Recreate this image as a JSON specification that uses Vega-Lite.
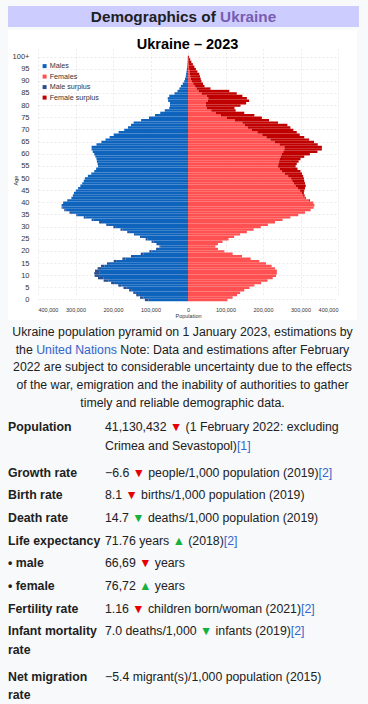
{
  "$schema": "https://vega.github.io/schema/vega-lite/v6.json",
  "background": "#f8f9fa",
  "padding": {"left": 8, "top": 6, "right": 9, "bottom": 0},
  "spacing": 3,
  "bounds": "flush",
  "resolve": {"scale": {"x": "independent", "y": "independent", "color": "independent"}, "legend": {"color": "independent"}},
  "config": {
    "font": "Liberation Sans",
    "view": {"stroke": null},
    "axis": {"labelFont": "Liberation Sans", "titleFont": "Liberation Sans"},
    "legend": {"labelFont": "Liberation Sans"}
  },
  "vconcat": [
    {
      "width": 351,
      "height": 21,
      "view": {"fill": "#ccccff", "stroke": null},
      "data": {"values": [{"a": "Demographics of", "b": "Ukraine"}]},
      "layer": [
        {
          "mark": {"type": "text", "x": 207.8, "y": 10.5, "align": "right", "baseline": "middle", "fontSize": 15.3, "fontWeight": "bold", "color": "#202122"},
          "encoding": {"text": {"field": "a"}}
        },
        {
          "mark": {"type": "text", "x": 212.1, "y": 10.5, "align": "left", "baseline": "middle", "fontSize": 15.3, "fontWeight": "bold", "color": "#795cb2"},
          "encoding": {"text": {"field": "b"}}
        }
      ]
    },
    {
      "width": 349,
      "height": 290,
      "view": {"fill": "white", "stroke": null},
      "title": {"text": "Ukraine – 2023", "fontSize": 14.5, "fontWeight": "bold", "color": "#000000", "anchor": "middle", "frame": "group", "offset": -33.5, "baseline": "alphabetic", "dx": 5},
      "data": {"values": [
        {"age":0,"Males":-105,"Male surplus":-10,"Females":105,"Female surplus":0},
        {"age":1,"Males":-119,"Male surplus":-9,"Females":119,"Female surplus":0},
        {"age":2,"Males":-131,"Male surplus":-7,"Females":131,"Female surplus":0},
        {"age":3,"Males":-139,"Male surplus":-7,"Females":139,"Female surplus":0},
        {"age":4,"Males":-150,"Male surplus":-7,"Females":150,"Female surplus":0},
        {"age":5,"Males":-164,"Male surplus":-8,"Females":164,"Female surplus":0},
        {"age":6,"Males":-177,"Male surplus":-9,"Females":177,"Female surplus":0},
        {"age":7,"Males":-195,"Male surplus":-10,"Females":195,"Female surplus":0},
        {"age":8,"Males":-212,"Male surplus":-13,"Females":212,"Female surplus":0},
        {"age":9,"Males":-226,"Male surplus":-14,"Females":226,"Female surplus":0},
        {"age":10,"Males":-235,"Male surplus":-14,"Females":235,"Female surplus":0},
        {"age":11,"Males":-237,"Male surplus":-13,"Females":237,"Female surplus":0},
        {"age":12,"Males":-237,"Male surplus":-11,"Females":237,"Female surplus":0},
        {"age":13,"Males":-232,"Male surplus":-9,"Females":232,"Female surplus":0},
        {"age":14,"Males":-223,"Male surplus":-9,"Females":223,"Female surplus":0},
        {"age":15,"Males":-208,"Male surplus":-8,"Females":208,"Female surplus":0},
        {"age":16,"Males":-190,"Male surplus":-8,"Females":190,"Female surplus":0},
        {"age":17,"Males":-167,"Male surplus":-8,"Females":167,"Female surplus":0},
        {"age":18,"Males":-144,"Male surplus":-8,"Females":144,"Female surplus":0},
        {"age":19,"Males":-119,"Male surplus":-7,"Females":119,"Female surplus":0},
        {"age":20,"Males":-97,"Male surplus":-6,"Females":97,"Female surplus":0},
        {"age":21,"Males":-80,"Male surplus":-5,"Females":80,"Female surplus":0},
        {"age":22,"Males":-73,"Male surplus":-3,"Females":73,"Female surplus":0},
        {"age":23,"Males":-80,"Male surplus":-4,"Females":80,"Female surplus":0},
        {"age":24,"Males":-92,"Male surplus":-5,"Females":92,"Female surplus":0},
        {"age":25,"Males":-108,"Male surplus":-5,"Females":108,"Female surplus":0},
        {"age":26,"Males":-123,"Male surplus":-5,"Females":123,"Female surplus":0},
        {"age":27,"Males":-139,"Male surplus":-5,"Females":139,"Female surplus":0},
        {"age":28,"Males":-157,"Male surplus":-5,"Females":157,"Female surplus":0},
        {"age":29,"Males":-175,"Male surplus":-5,"Females":175,"Female surplus":0},
        {"age":30,"Males":-194,"Male surplus":-5,"Females":194,"Female surplus":0},
        {"age":31,"Males":-213,"Male surplus":-5,"Females":213,"Female surplus":0},
        {"age":32,"Males":-232,"Male surplus":-5,"Females":232,"Female surplus":0},
        {"age":33,"Males":-252,"Male surplus":-5,"Females":252,"Female surplus":0},
        {"age":34,"Males":-273,"Male surplus":-5,"Females":273,"Female surplus":0},
        {"age":35,"Males":-294,"Male surplus":-4,"Females":294,"Female surplus":0},
        {"age":36,"Males":-312,"Male surplus":-4,"Females":312,"Female surplus":0},
        {"age":37,"Males":-327,"Male surplus":-3,"Females":327,"Female surplus":0},
        {"age":38,"Males":-335,"Male surplus":-2,"Females":335,"Female surplus":0},
        {"age":39,"Males":-337,"Male surplus":0,"Females":337,"Female surplus":0},
        {"age":40,"Males":-333,"Male surplus":0,"Females":333,"Female surplus":1},
        {"age":41,"Males":-322,"Male surplus":0,"Females":322,"Female surplus":3},
        {"age":42,"Males":-311,"Male surplus":0,"Females":311,"Female surplus":3},
        {"age":43,"Males":-307,"Male surplus":0,"Females":307,"Female surplus":4},
        {"age":44,"Males":-304,"Male surplus":0,"Females":304,"Female surplus":5},
        {"age":45,"Males":-299,"Male surplus":0,"Females":299,"Female surplus":11},
        {"age":46,"Males":-293,"Male surplus":0,"Females":293,"Female surplus":19},
        {"age":47,"Males":-287,"Male surplus":0,"Females":287,"Female surplus":27},
        {"age":48,"Males":-282,"Male surplus":0,"Females":282,"Female surplus":30},
        {"age":49,"Males":-278,"Male surplus":0,"Females":278,"Female surplus":32},
        {"age":50,"Males":-275,"Male surplus":0,"Females":275,"Female surplus":34},
        {"age":51,"Males":-267,"Male surplus":0,"Females":267,"Female surplus":40},
        {"age":52,"Males":-258,"Male surplus":0,"Females":258,"Female surplus":46},
        {"age":53,"Males":-250,"Male surplus":0,"Females":250,"Female surplus":50},
        {"age":54,"Males":-245,"Male surplus":0,"Females":245,"Female surplus":47},
        {"age":55,"Males":-240,"Male surplus":0,"Females":240,"Female surplus":47},
        {"age":56,"Males":-241,"Male surplus":0,"Females":241,"Female surplus":49},
        {"age":57,"Males":-243,"Male surplus":0,"Females":243,"Female surplus":52},
        {"age":58,"Males":-244,"Male surplus":0,"Females":244,"Female surplus":56},
        {"age":59,"Males":-247,"Male surplus":0,"Females":247,"Female surplus":63},
        {"age":60,"Males":-250,"Male surplus":0,"Females":250,"Female surplus":75},
        {"age":61,"Males":-254,"Male surplus":0,"Females":254,"Female surplus":91},
        {"age":62,"Males":-257,"Male surplus":0,"Females":257,"Female surplus":100},
        {"age":63,"Males":-257,"Male surplus":0,"Females":257,"Female surplus":100},
        {"age":64,"Males":-244,"Male surplus":0,"Females":244,"Female surplus":102},
        {"age":65,"Males":-231,"Male surplus":0,"Females":231,"Female surplus":105},
        {"age":66,"Males":-220,"Male surplus":0,"Females":220,"Female surplus":103},
        {"age":67,"Males":-209,"Male surplus":0,"Females":209,"Female surplus":101},
        {"age":68,"Males":-198,"Male surplus":0,"Females":198,"Female surplus":100},
        {"age":69,"Males":-185,"Male surplus":0,"Females":185,"Female surplus":105},
        {"age":70,"Males":-170,"Male surplus":0,"Females":170,"Female surplus":111},
        {"age":71,"Males":-160,"Male surplus":0,"Females":160,"Female surplus":113},
        {"age":72,"Males":-152,"Male surplus":0,"Females":152,"Female surplus":113},
        {"age":73,"Males":-145,"Male surplus":0,"Females":145,"Female surplus":95},
        {"age":74,"Males":-125,"Male surplus":0,"Females":125,"Female surplus":91},
        {"age":75,"Males":-104,"Male surplus":0,"Females":104,"Female surplus":93},
        {"age":76,"Males":-88,"Male surplus":0,"Females":88,"Female surplus":89},
        {"age":77,"Males":-74,"Male surplus":0,"Females":74,"Female surplus":76},
        {"age":78,"Males":-62,"Male surplus":0,"Females":62,"Female surplus":65},
        {"age":79,"Males":-50,"Male surplus":0,"Females":50,"Female surplus":74},
        {"age":80,"Males":-48,"Male surplus":0,"Females":48,"Female surplus":92},
        {"age":81,"Males":-48,"Male surplus":0,"Females":48,"Female surplus":107},
        {"age":82,"Males":-53,"Male surplus":0,"Females":53,"Female surplus":110},
        {"age":83,"Males":-54,"Male surplus":0,"Females":54,"Female surplus":103},
        {"age":84,"Males":-50,"Male surplus":0,"Females":50,"Female surplus":95},
        {"age":85,"Males":-36,"Male surplus":0,"Females":36,"Female surplus":94},
        {"age":86,"Males":-28,"Male surplus":0,"Females":28,"Female surplus":82},
        {"age":87,"Males":-23,"Male surplus":0,"Females":23,"Female surplus":37},
        {"age":88,"Males":-19,"Male surplus":0,"Females":19,"Female surplus":25},
        {"age":89,"Males":-14,"Male surplus":0,"Females":14,"Female surplus":26},
        {"age":90,"Males":-10,"Male surplus":0,"Females":10,"Female surplus":26},
        {"age":91,"Males":-8,"Male surplus":0,"Females":8,"Female surplus":26},
        {"age":92,"Males":-6,"Male surplus":0,"Females":6,"Female surplus":26},
        {"age":93,"Males":-5,"Male surplus":0,"Females":5,"Female surplus":25},
        {"age":94,"Males":-4,"Male surplus":0,"Females":4,"Female surplus":21},
        {"age":95,"Males":-3,"Male surplus":0,"Females":3,"Female surplus":18},
        {"age":96,"Males":-2,"Male surplus":0,"Females":2,"Female surplus":15},
        {"age":97,"Males":-1.5,"Male surplus":0,"Females":1.5,"Female surplus":11.5},
        {"age":98,"Males":-1,"Male surplus":0,"Females":1,"Female surplus":8},
        {"age":99,"Males":-0.7,"Male surplus":0,"Females":0.7,"Female surplus":5.3},
        {"age":100,"Males":-0.5,"Male surplus":0,"Females":0.5,"Female surplus":2.5}
      ]},
      "transform": [
        {"fold": ["Males", "Male surplus", "Females", "Female surplus"], "as": ["part", "v"]},
        {"filter": "datum.v != 0"}
      ],
      "mark": {"type": "bar", "strokeWidth": 0},
      "encoding": {
        "y": {
          "field": "age", "type": "ordinal", "sort": "descending",
          "scale": {"range": [25.8, 271.2], "paddingInner": 0, "paddingOuter": 0},
          "axis": {
            "values": [0,5,10,15,20,25,30,35,40,45,50,55,60,65,70,75,80,85,90,95,100],
            "labelExpr": "datum.value == 100 ? '100+' : datum.label",
            "offset": -23, "ticks": false, "tickSize": 0, "domain": false, "labelPadding": 2,
            "labelFontSize": 7.5, "labelColor": "#333333",
            "grid": true, "gridDash": [2, 2], "gridColor": "#dddddd", "gridWidth": 0.6,
            "title": "Age", "titleFontSize": 5.5, "titleFontWeight": "normal", "titleColor": "#333333",
            "titleX": -16, "titleY": 150, "titleAngle": 270, "titleAlign": "center", "titleBaseline": "middle"
          }
        },
        "x": {
          "field": "v", "type": "quantitative", "stack": "zero",
          "scale": {"domain": [-400, 400], "range": [30, 330], "nice": false, "zero": false},
          "axis": {
            "values": [-400,-300,-200,-100,0,100,200,300,400],
            "labelExpr": "format(abs(datum.value) * 1000, ',')",
            "offset": -15, "ticks": false, "tickSize": 0, "domain": false, "labelPadding": 2,
            "labelFontSize": 5.5, "labelColor": "#333333",
            "grid": true, "gridDash": [2, 2], "gridColor": "#dddddd", "gridWidth": 0.6,
            "title": "Population", "titleFontSize": 5.5, "titleFontWeight": "normal", "titleColor": "#333333", "titlePadding": 1
          }
        },
        "color": {
          "field": "part", "type": "nominal",
          "scale": {"domain": ["Males", "Females", "Male surplus", "Female surplus"], "range": ["#0e63bd", "#ff5151", "#2a4d8f", "#c00000"]},
          "legend": {
            "title": null, "orient": "none", "legendX": 33, "legendY": 32.5, "padding": 0,
            "symbolType": "square", "symbolSize": 16, "symbolStrokeWidth": 0,
            "labelFontSize": 7.2, "labelColor": "#333333", "rowPadding": 2.5, "labelOffset": 1.5
          }
        },
        "order": {"field": "part", "sort": "descending"}
      }
    },
    {
      "width": 349,
      "height": 88.75,
      "data": {"values": [
        {"line": 0, "text": "Ukraine population pyramid on 1 January 2023, estimations by"},
        {"line": 1, "text": "the United Nations Note: Data and estimations after February", "link": "the United Nations", "plain": "the"},
        {"line": 2, "text": "2022 are subject to considerable uncertainty due to the effects"},
        {"line": 3, "text": "of the war, emigration and the inability of authorities to gather"},
        {"line": 4, "text": "timely and reliable demographic data."}
      ]},
      "encoding": {
        "y": {"field": "line", "type": "ordinal", "scale": {"type": "point", "padding": 0.5, "domain": [0, 1, 2, 3, 4]}, "axis": null}
      },
      "layer": [
        {
          "transform": [{"filter": "datum.line != 1"}],
          "mark": {"type": "text", "x": 174.5, "align": "center", "baseline": "middle", "fontSize": 12.3, "color": "#202122"},
          "encoding": {"text": {"field": "text"}}
        },
        {
          "transform": [{"filter": "datum.line == 1"}],
          "mark": {"type": "text", "x": 7.7, "align": "left", "baseline": "middle", "fontSize": 12.3, "color": "#202122"},
          "encoding": {"text": {"field": "text"}}
        },
        {
          "transform": [{"filter": "datum.line == 1"}],
          "mark": {"type": "text", "x": 7.7, "align": "left", "baseline": "middle", "fontSize": 12.3, "fill": "#f8f9fa", "fillOpacity": 0, "stroke": "#f8f9fa", "strokeWidth": 1.4, "strokeJoin": "round"},
          "encoding": {"text": {"field": "link"}}
        },
        {
          "transform": [{"filter": "datum.line == 1"}],
          "mark": {"type": "text", "x": 7.7, "align": "left", "baseline": "middle", "fontSize": 12.3, "color": "#3366cc"},
          "encoding": {"text": {"field": "link"}}
        },
        {
          "transform": [{"filter": "datum.line == 1"}],
          "mark": {"type": "text", "x": 7.7, "align": "left", "baseline": "middle", "fontSize": 12.3, "fill": "#f8f9fa", "fillOpacity": 0, "stroke": "#f8f9fa", "strokeWidth": 1.4, "strokeJoin": "round"},
          "encoding": {"text": {"field": "plain"}}
        },
        {
          "transform": [{"filter": "datum.line == 1"}],
          "mark": {"type": "text", "x": 7.7, "align": "left", "baseline": "middle", "fontSize": 12.3, "color": "#202122"},
          "encoding": {"text": {"field": "plain"}}
        }
      ]
    },
    {
      "width": 349,
      "height": 290,
      "data": {"values": [
        {"line": 0, "label": "Population", "text": "41,130,432 ▼ (1 February 2022: excluding\nCrimea and Sevastopol)", "full": "41,130,432 ▼ (1 February 2022: excluding\nCrimea and Sevastopol)[1]", "pre": "41,130,432", "tri": "41,130,432 ▼", "trend": "worse"},
        {"line": 2, "label": "Growth rate", "text": "−6.6 ▼ people/1,000 population (2019)", "full": "−6.6 ▼ people/1,000 population (2019)[2]", "pre": "−6.6", "tri": "−6.6 ▼", "trend": "worse"},
        {"line": 3, "label": "Birth rate", "text": "8.1 ▼ births/1,000 population (2019)", "pre": "8.1", "tri": "8.1 ▼", "trend": "worse"},
        {"line": 4, "label": "Death rate", "text": "14.7 ▼ deaths/1,000 population (2019)", "pre": "14.7", "tri": "14.7 ▼", "trend": "better"},
        {"line": 5, "label": "Life expectancy", "text": "71.76 years ▲ (2018)", "full": "71.76 years ▲ (2018)[2]", "pre": "71.76 years", "tri": "71.76 years ▲", "trend": "better"},
        {"line": 6, "label": "\u00a0• male", "text": "66,69 ▼ years", "pre": "66,69", "tri": "66,69 ▼", "trend": "worse"},
        {"line": 7, "label": "\u00a0• female", "text": "76,72 ▲ years", "pre": "76,72", "tri": "76,72 ▲", "trend": "better"},
        {"line": 8, "label": "Fertility rate", "text": "1.16 ▼ children born/woman (2021)", "full": "1.16 ▼ children born/woman (2021)[2]", "pre": "1.16", "tri": "1.16 ▼", "trend": "worse"},
        {"line": 9, "label": "Infant mortality\nrate", "text": "7.0 deaths/1,000 ▼ infants (2019)", "full": "7.0 deaths/1,000 ▼ infants (2019)[2]", "pre": "7.0 deaths/1,000", "tri": "7.0 deaths/1,000 ▼", "trend": "better"},
        {"line": 11, "label": "Net migration\nrate", "text": "−5.4 migrant(s)/1,000 population (2015)"}
      ]},
      "encoding": {
        "y": {"field": "line", "type": "quantitative", "scale": {"domain": [-0.717, 12.08], "reverse": true, "nice": false, "zero": false}, "axis": null}
      },
      "layer": [
        {
          "mark": {"type": "text", "align": "left", "baseline": "alphabetic", "fontSize": 12.3, "fontWeight": "bold", "color": "#202122", "lineBreak": "\n", "lineHeight": 18.5},
          "encoding": {
            "x": {"datum": "label", "type": "nominal", "scale": {"type": "point", "domain": ["label", "value"], "range": [0, 97], "padding": 0}, "axis": null},
            "text": {"field": "label"}
          }
        },
        {
          "transform": [{"filter": "isValid(datum.full)"}],
          "mark": {"type": "text", "align": "left", "baseline": "alphabetic", "fontSize": 12.3, "color": "#3366cc", "lineBreak": "\n", "lineHeight": 18.5},
          "encoding": {"x": {"datum": "value", "type": "nominal"}, "text": {"field": "full"}}
        },
        {
          "transform": [{"filter": "isValid(datum.full)"}],
          "mark": {"type": "text", "align": "left", "baseline": "alphabetic", "fontSize": 12.3, "fill": "#f8f9fa", "fillOpacity": 0, "stroke": "#f8f9fa", "strokeWidth": 1.4, "strokeJoin": "round", "lineBreak": "\n", "lineHeight": 18.5},
          "encoding": {"x": {"datum": "value", "type": "nominal"}, "text": {"field": "text"}}
        },
        {
          "mark": {"type": "text", "align": "left", "baseline": "alphabetic", "fontSize": 12.3, "color": "#202122", "lineBreak": "\n", "lineHeight": 18.5},
          "encoding": {"x": {"datum": "value", "type": "nominal"}, "text": {"field": "text"}}
        },
        {
          "transform": [{"filter": "isValid(datum.tri)"}],
          "mark": {"type": "text", "align": "left", "baseline": "alphabetic", "fontSize": 12.3, "fill": "#f8f9fa", "fillOpacity": 0, "stroke": "#f8f9fa", "strokeWidth": 1.4, "strokeJoin": "round"},
          "encoding": {"x": {"datum": "value", "type": "nominal"}, "text": {"field": "tri"}}
        },
        {
          "transform": [{"filter": "isValid(datum.tri)"}],
          "mark": {"type": "text", "align": "left", "baseline": "alphabetic", "fontSize": 12.3},
          "encoding": {
            "x": {"datum": "value", "type": "nominal"},
            "text": {"field": "tri"},
            "color": {"field": "trend", "type": "nominal", "scale": {"domain": ["worse", "better"], "range": ["#e60000", "#14b13c"]}, "legend": null}
          }
        },
        {
          "transform": [{"filter": "isValid(datum.pre)"}],
          "mark": {"type": "text", "align": "left", "baseline": "alphabetic", "fontSize": 12.3, "fill": "#f8f9fa", "fillOpacity": 0, "stroke": "#f8f9fa", "strokeWidth": 1.4, "strokeJoin": "round"},
          "encoding": {"x": {"datum": "value", "type": "nominal"}, "text": {"field": "pre"}}
        },
        {
          "transform": [{"filter": "isValid(datum.pre)"}],
          "mark": {"type": "text", "align": "left", "baseline": "alphabetic", "fontSize": 12.3, "color": "#202122"},
          "encoding": {"x": {"datum": "value", "type": "nominal"}, "text": {"field": "pre"}}
        }
      ]
    }
  ]
}
